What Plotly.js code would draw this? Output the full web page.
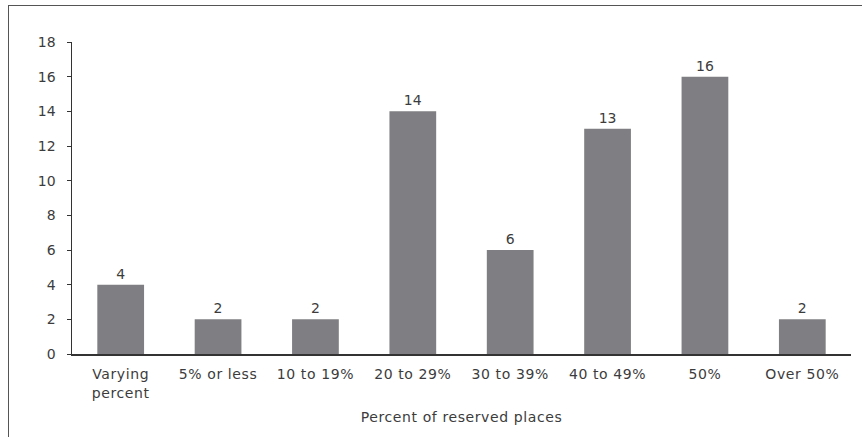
<!DOCTYPE html>
<html>
<head>
<meta charset="utf-8">
<script src="https://cdn.plot.ly/plotly-3.0.1.min.js"></script>
<style>
  html, body { margin: 0; padding: 0; background: #fff; }
  #wrap { position: relative; width: 862px; height: 437px; overflow: hidden; }
  #chart { position: absolute; left: 0; top: 0; width: 862px; height: 437px; }
  #chart .xtick text, #chart .xtitle { letter-spacing: 0.6px; }
  #frame { position: absolute; left: 8px; top: 5px; width: 870px; height: 460px;
           border-left: 1.5px solid #555; border-top: 1.5px solid #555; pointer-events: none; }
</style>
</head>
<body>
<div id="wrap">
  <div id="chart"></div>
  <div id="frame"></div>
</div>
<script>
// Number of programmes by share of places reserved
const categories = ["Varying<br>percent", "5% or less", "10 to 19%", "20 to 29%",
                    "30 to 39%", "40 to 49%", "50%", "Over 50%"];
const counts = [4, 2, 2, 14, 6, 13, 16, 2];
const yTicks = [0, 2, 4, 6, 8, 10, 12, 14, 16, 18];

const textColor = "#3c3c3c";
const fontFamily = "'DejaVu Sans', sans-serif";
const fontSize = 14;

const trace = {
  type: "bar",
  x: categories,
  y: counts,
  text: counts.map(String),
  textposition: "outside",
  cliponaxis: false,
  textfont: { family: fontFamily, size: fontSize, color: textColor },
  marker: { color: "#7f7f83", line: { width: 0 } },
  hoverinfo: "skip"
};

const layout = {
  width: 862,
  height: 437,
  margin: { l: 72, r: 11, t: 42, b: 83 },
  paper_bgcolor: "#ffffff",
  plot_bgcolor: "#ffffff",
  showlegend: false,
  bargap: 0.52,
  font: { family: fontFamily, size: fontSize, color: textColor },
  xaxis: {
    type: "category",
    showline: true,
    linecolor: "#333333",
    linewidth: 1.5,
    ticks: "",
    ticklabelstandoff: 7,
    showgrid: false,
    zeroline: false,
    tickfont: { family: fontFamily, size: fontSize, color: textColor },
    title: { text: "Percent of reserved places", standoff: 12,
             font: { family: fontFamily, size: fontSize, color: textColor } }
  },
  yaxis: {
    range: [0, 18],
    tickvals: yTicks,
    ticktext: yTicks.map(String),
    showline: true,
    linecolor: "#333333",
    linewidth: 1.5,
    ticks: "outside",
    ticklen: 4,
    tickcolor: "#333333",
    tickwidth: 1,
    ticklabelstandoff: 8,
    showgrid: false,
    zeroline: false,
    tickfont: { family: fontFamily, size: fontSize, color: textColor }
  }
};

Plotly.newPlot("chart", [trace], layout, { displayModeBar: false, staticPlot: true });
</script>
</body>
</html>
